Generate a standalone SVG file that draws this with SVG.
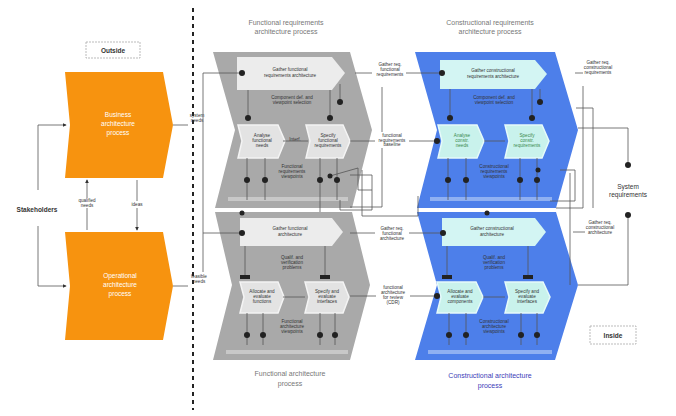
<svg xmlns="http://www.w3.org/2000/svg" width="676" height="416" viewBox="0 0 676 416">
<defs>
<marker id="ah" viewBox="0 0 6 6" refX="5" refY="3" markerWidth="5" markerHeight="5" orient="auto"><path d="M0,0 L6,3 L0,6 Z" fill="#333"/></marker>
<style>
.t{font-family:"Liberation Sans",Arial,sans-serif;fill:#333;text-anchor:middle}
.s{font-size:4.6px}
.m{font-size:6.5px}
.w{fill:#fff;font-size:6.5px}
.ttl{font-size:7px;fill:#777}
.b{font-weight:bold}
.ln{fill:none;stroke:#555;stroke-width:0.8}
.dot{fill:#222}
.or{fill:#F7930F}
.gr{fill:#A9A9A9}
.bl{fill:#4D7FEA}
.gch{fill:#ECECEC}
.bch{fill:#D3F5F3}
.gbx{fill:#E3E3E3;stroke:#F4F4F4;stroke-width:1.5}
.bbx{fill:#C9F2EC;stroke:#E6FAFA;stroke-width:1.5}
.tag{fill:#fff;stroke:#AAA;stroke-width:0.8;stroke-dasharray:2 1}
</style>
</defs>
<rect width="676" height="416" fill="#fff"/>

<line x1="193" y1="8" x2="193" y2="410" stroke="#222" stroke-width="2" stroke-dasharray="4 4"/>

<g id="outside"><rect class="tag" x="86" y="42" width="54" height="16"/><text class="t m b" x="113" y="53">Outside</text></g>
<g id="inside"><rect class="tag" x="590" y="326" width="46" height="18"/><text class="t m b" x="613" y="338">Inside</text></g>

<g id="stakeholders"><text class="t m b" x="37" y="212">Stakeholders</text></g>

<g id="business"><path class="or" d="M65,72 L163,72 L173,125 L163,178 L65,178 L70,125 Z"/><text class="t w" x="118" y="117">Business</text><text class="t w" x="118" y="126">architecture</text><text class="t w" x="118" y="135">process</text></g>
<g id="operational"><path class="or" d="M65,232 L163,232 L173,286 L163,340 L65,340 L70,286 Z"/><text class="t w" x="120" y="278">Operational</text><text class="t w" x="120" y="287">architecture</text><text class="t w" x="120" y="296">process</text></g>

<!-- gray -->
<g id="functional-req">
<text class="t ttl" x="286" y="25">Functional requirements</text><text class="t ttl" x="286" y="34">architecture process</text>
<path class="gr" d="M213,52 L350,52 L372,130 L352,208 L215,208 L235,130 Z"/>
<path class="gch" d="M237,57 L332,57 L345,73 L332,90 L237,90 Z"/>
<text class="t s" x="290" y="71">Gather functional</text><text class="t s" x="290" y="77">requirements architecture</text>
<text class="t s" x="292" y="99">Component def. and</text><text class="t s" x="292" y="104">viewpoint selection</text>
<path class="gbx" d="M238,125 L278,125 L285,141 L278,158 L238,158 L242,141 Z"/>
<path class="gbx" d="M306,125 L343,125 L350,141 L343,158 L306,158 L310,141 Z"/>
<text class="t s" x="262" y="137">Analyse</text><text class="t s" x="262" y="142">functional</text><text class="t s" x="262" y="147">needs</text>
<text class="t s" x="328" y="137">Specify</text><text class="t s" x="328" y="142">functional</text><text class="t s" x="328" y="147">requirements</text>
<text class="t s" x="295" y="141">Interf.</text>
<text class="t s" x="292" y="168">Functional</text><text class="t s" x="292" y="173">requirements</text><text class="t s" x="292" y="178">viewpoints</text>
<rect x="228" y="197" width="120" height="4" fill="#C8C8C8"/>
</g>
<g id="functional">
<path class="gr" d="M215,212 L352,212 L370,285 L350,360 L213,360 L232,285 Z"/>
<path class="gch" d="M240,218 L332,218 L343,232 L332,246 L240,246 Z"/>
<text class="t s" x="290" y="230">Gather functional</text><text class="t s" x="290" y="236">architecture</text>
<text class="t s" x="292" y="259">Qualif. and</text><text class="t s" x="292" y="264">verification</text><text class="t s" x="292" y="269">problems</text>
<path class="gbx" d="M240,282 L278,282 L284,297 L278,313 L240,313 L244,297 Z"/>
<path class="gbx" d="M305,282 L343,282 L349,297 L343,313 L305,313 L309,297 Z"/>
<text class="t s" x="262" y="293">Allocate and</text><text class="t s" x="262" y="298">evaluate</text><text class="t s" x="262" y="303">functions</text>
<text class="t s" x="327" y="293">Specify and</text><text class="t s" x="327" y="298">evaluate</text><text class="t s" x="327" y="303">interfaces</text>
<text class="t s" x="292" y="323">Functional</text><text class="t s" x="292" y="328">architecture</text><text class="t s" x="292" y="333">viewpoints</text>
<rect x="226" y="350" width="122" height="4" fill="#C8C8C8"/>
<text class="t ttl" x="290" y="376">Functional architecture</text><text class="t ttl" x="290" y="386">process</text>
</g>

<!-- blue -->
<g id="constructional-req">
<text class="t ttl" x="490" y="25">Constructional requirements</text><text class="t ttl" x="490" y="34">architecture process</text>
<path class="bl" d="M415,52 L555,52 L578,130 L556,208 L417,208 L437,130 Z"/>
<path class="bch" d="M440,60 L535,60 L547,74 L535,89 L440,89 Z"/>
<text class="t s" x="493" y="72">Gather constructional</text><text class="t s" x="493" y="78">requirements architecture</text>
<text class="t s" x="494" y="99">Component def. and</text><text class="t s" x="494" y="104">viewpoint selection</text>
<path class="bbx" d="M438,125 L477,125 L484,141 L477,158 L438,158 L442,141 Z"/>
<path class="bbx" d="M505,125 L542,125 L549,141 L542,158 L505,158 L509,141 Z"/>
<text class="t s" x="462" y="137" style="fill:#3a8a4a">Analyse</text><text class="t s" x="462" y="142" style="fill:#3a8a4a">constr.</text><text class="t s" x="462" y="147" style="fill:#3a8a4a">needs</text>
<text class="t s" x="527" y="137" style="fill:#3a8a4a">Specify</text><text class="t s" x="527" y="142" style="fill:#3a8a4a">constr.</text><text class="t s" x="527" y="147" style="fill:#3a8a4a">requirements</text>
<text class="t s" x="494" y="168">Constructional</text><text class="t s" x="494" y="173">requirements</text><text class="t s" x="494" y="178">viewpoints</text>
<rect x="430" y="197" width="122" height="4" fill="#8FB0F2"/>
</g>
<g id="constructional">
<path class="bl" d="M417,212 L556,212 L578,285 L555,360 L415,360 L437,285 Z"/>
<path class="bch" d="M442,218 L535,218 L546,232 L535,246 L442,246 Z"/>
<text class="t s" x="492" y="230">Gather constructional</text><text class="t s" x="492" y="236">architecture</text>
<text class="t s" x="494" y="259">Qualif. and</text><text class="t s" x="494" y="264">verification</text><text class="t s" x="494" y="269">problems</text>
<path class="bbx" d="M437,282 L476,282 L483,297 L476,313 L437,313 L441,297 Z"/>
<path class="bbx" d="M505,282 L543,282 L550,297 L543,313 L505,313 L509,297 Z"/>
<text class="t s" x="460" y="293">Allocate and</text><text class="t s" x="460" y="298">evaluate</text><text class="t s" x="460" y="303">components</text>
<text class="t s" x="527" y="293">Specify and</text><text class="t s" x="527" y="298">evaluate</text><text class="t s" x="527" y="303">interfaces</text>
<text class="t s" x="494" y="323">Constructional</text><text class="t s" x="494" y="328">architecture</text><text class="t s" x="494" y="333">viewpoints</text>
<rect x="428" y="350" width="124" height="4" fill="#8FB0F2"/>
<text class="t ttl" x="490" y="378" style="fill:#3C3CB8">Constructional architecture</text><text class="t ttl" x="490" y="388" style="fill:#3C3CB8">process</text>
</g>

<g id="system-req"><text class="t m" x="628" y="189">System</text><text class="t m" x="628" y="197">requirements</text></g>

<g id="connectors">
<!-- stakeholders -->
<path class="ln" d="M38,190 L38,125 L66,125" marker-end="url(#ah)"/>
<path class="ln" d="M38,226 L38,286 L66,286" marker-end="url(#ah)"/>
<path class="ln" d="M87,230 L87,180" marker-end="url(#ah)"/>
<path class="ln" d="M137,180 L137,230" marker-end="url(#ah)"/>
<rect x="74" y="198" width="26" height="10" fill="#fff"/>
<text class="t s" x="87" y="202">qualified</text><text class="t s" x="87" y="207">needs</text>
<rect x="128" y="201" width="18" height="7" fill="#fff"/>
<text class="t s" x="137" y="206">ideas</text>
<path class="ln" d="M173,125 L188,125"/>
<path class="ln" d="M173,286 L188,286"/>
<text class="t s" x="197" y="117">system</text><text class="t s" x="197" y="122">needs</text>
<text class="t s" x="199" y="278">feasible</text><text class="t s" x="199" y="283">needs</text>
<path class="ln" d="M203,272 L203,73 L240,73"/>
<path class="ln" d="M203,233 L240,233"/>
<!-- gray internals -->
<path class="ln" d="M248,90 L248,118 M330,90 L330,118 M340,84 L340,102"/>
<path class="ln" d="M247,158 L247,200 M265,158 L265,200 M320,158 L320,200 M337,158 L337,200"/>
<path class="ln" d="M283,141 L308,141"/>
<path class="ln" d="M245,246 L245,277 M325,246 L325,277 M247,313 L247,345 M263,313 L263,345 M320,313 L320,345 M335,313 L335,345"/>
<path class="ln" d="M283,297 L305,297"/>
<path class="ln" d="M320,200 L320,212 M330,176 L358,168 L358,190 L372,190"/>
<path class="ln" d="M340,200 L340,210 L372,210 L372,175 L350,175"/>
<!-- blue internals -->
<path class="ln" d="M450,89 L450,118 M532,89 L532,118 M540,89 L540,102"/>
<path class="ln" d="M448,158 L448,200 M466,158 L466,200 M520,158 L520,200 M537,158 L537,200"/>
<path class="ln" d="M484,141 L505,141"/>
<path class="ln" d="M447,246 L447,277 M528,246 L528,277 M449,313 L449,345 M466,313 L466,345 M521,313 L521,345 M537,313 L537,345"/>
<path class="ln" d="M483,297 L505,297"/>
<!-- between gray and blue -->
<path class="ln" d="M355,73 L440,73"/>
<path class="ln" d="M382,87 L382,207 L350,207"/>
<path class="ln" d="M350,141 L437,141"/>
<path class="ln" d="M350,233 L442,233"/>
<path class="ln" d="M350,296 L437,296"/>
<path class="ln" d="M362,170 L362,216 L418,216 L418,196"/>
<rect x="372" y="62" width="34" height="18" fill="#fff"/>
<text class="t s" x="390" y="66">Gather req.</text><text class="t s" x="390" y="71">functional</text><text class="t s" x="390" y="76">requirements</text>
<rect x="375" y="132" width="34" height="16" fill="#fff"/>
<text class="t s" x="392" y="137">functional</text><text class="t s" x="392" y="142">requirements</text><text class="t s" x="392" y="146">baseline</text>
<rect x="375" y="226" width="34" height="16" fill="#fff"/>
<text class="t s" x="392" y="230">Gather req.</text><text class="t s" x="392" y="235">functional</text><text class="t s" x="392" y="240">architecture</text>
<rect x="376" y="284" width="34" height="24" fill="#fff"/>
<text class="t s" x="393" y="289">functional</text><text class="t s" x="393" y="294">architecture</text><text class="t s" x="393" y="299">for review</text><text class="t s" x="393" y="304">(CDR)</text>
<!-- right side -->
<path class="ln" d="M575,73 L600,73"/>
<path class="ln" d="M583,86 L583,208 L556,208"/>
<path class="ln" d="M576,108 L593,108 L593,208"/>
<path class="ln" d="M578,128 L628,128 L628,165"/>
<path class="ln" d="M628,215 L628,285 L578,285"/>
<path class="ln" d="M560,170 L575,170 L575,201 L550,201"/>
<path class="ln" d="M573,232 L600,232"/>
<path class="ln" d="M570,173 L570,285"/>
<rect x="583" y="60" width="30" height="16" fill="#fff"/>
<text class="t s" x="598" y="64">Gather req.</text><text class="t s" x="598" y="69">constructional</text><text class="t s" x="598" y="74">requirements</text>
<rect x="585" y="220" width="30" height="16" fill="#fff"/>
<text class="t s" x="600" y="224">Gather req.</text><text class="t s" x="600" y="229">constructional</text><text class="t s" x="600" y="234">architecture</text>
<!-- dots -->
<g class="dot">
<circle cx="242" cy="73" r="3"/><circle cx="248" cy="118" r="3"/><circle cx="330" cy="118" r="3"/><circle cx="340" cy="102" r="3"/>
<circle cx="247" cy="180" r="3"/><circle cx="265" cy="180" r="3"/><circle cx="320" cy="180" r="3"/><circle cx="337" cy="180" r="3"/><circle cx="330" cy="176" r="2.5"/>
<circle cx="242" cy="233" r="3"/><rect x="240" y="275" width="10" height="4"/><rect x="320" y="275" width="10" height="4"/>
<circle cx="247" cy="335" r="3"/><circle cx="263" cy="335" r="3"/><circle cx="320" cy="335" r="3"/><circle cx="335" cy="335" r="3"/>
<circle cx="242" cy="213" r="2.5"/>
<circle cx="442" cy="73" r="3"/><circle cx="450" cy="118" r="3"/><circle cx="532" cy="118" r="3"/><circle cx="540" cy="102" r="3"/><circle cx="437" cy="141" r="3"/>
<circle cx="448" cy="180" r="3"/><circle cx="466" cy="180" r="3"/><circle cx="520" cy="180" r="3"/><circle cx="537" cy="180" r="3"/><circle cx="538" cy="170" r="2.5"/>
<circle cx="443" cy="233" r="3"/><rect x="442" y="275" width="10" height="4"/><rect x="523" y="275" width="10" height="4"/><circle cx="437" cy="296" r="3"/>
<circle cx="449" cy="335" r="3"/><circle cx="466" cy="335" r="3"/><circle cx="521" cy="335" r="3"/><circle cx="537" cy="335" r="3"/>
<circle cx="487" cy="213" r="2.5"/>
<circle cx="628" cy="165" r="3"/><circle cx="628" cy="215" r="3"/>
</g>
</g>
</svg>
